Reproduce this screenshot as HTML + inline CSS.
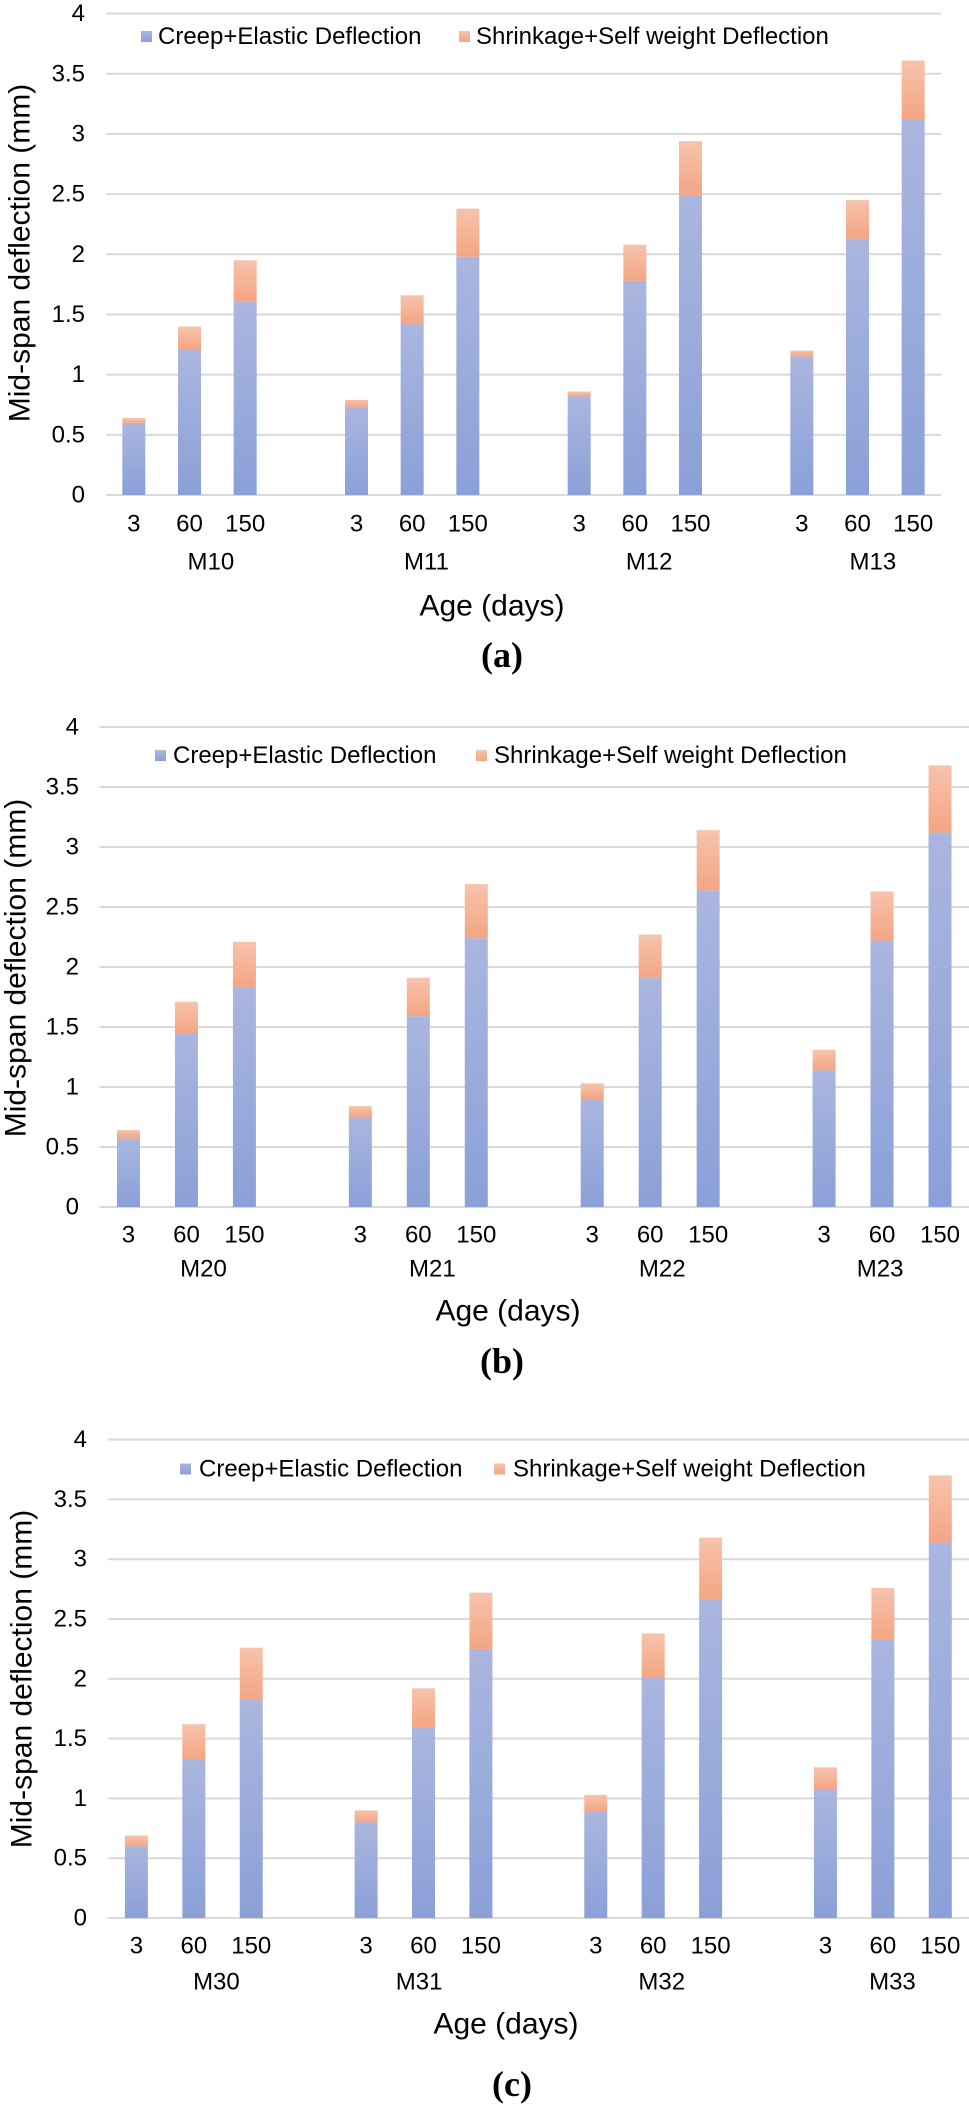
<!DOCTYPE html>
<html>
<head>
<meta charset="utf-8">
<style>
html,body{margin:0;padding:0;background:#fff;}
svg{display:block;}
text{font-family:"Liberation Sans",Arial,sans-serif;fill:#000;}
.cap{font-family:"Liberation Serif","Times New Roman",serif;font-weight:bold;}
</style>
</head>
<body>
<svg id="fig" width="969" height="2107" viewBox="0 0 969 2107" xmlns="http://www.w3.org/2000/svg">
<defs>
<linearGradient id="gBlue" x1="0" y1="0" x2="0" y2="1">
<stop offset="0" stop-color="#aab6df"/><stop offset="1" stop-color="#8ba0d8"/>
</linearGradient>
<linearGradient id="gOrange" x1="0" y1="0" x2="0" y2="1">
<stop offset="0" stop-color="#f7c3ad"/><stop offset="1" stop-color="#f4a583"/>
</linearGradient>
</defs>
</svg>
<script>
const ages = ["3","60","150"];
const groupsA = ["M10","M11","M12","M13"];
const groupsB = ["M20","M21","M22","M23"];
const groupsC = ["M30","M31","M32","M33"];
const creepA = [0.60,1.21,1.61, 0.73,1.42,1.98, 0.82,1.78,2.49, 1.15,2.13,3.12];
const shrinkA = [0.04,0.19,0.34, 0.06,0.24,0.40, 0.04,0.30,0.45, 0.05,0.32,0.49];
const creepB = [0.57,1.45,1.83, 0.75,1.59,2.24, 0.90,1.91,2.64, 1.14,2.22,3.12];
const shrinkB = [0.07,0.26,0.38, 0.09,0.32,0.45, 0.13,0.36,0.50, 0.17,0.41,0.56];
const creepC = [0.60,1.33,1.83, 0.80,1.59,2.25, 0.89,2.01,2.66, 1.07,2.33,3.14];
const shrinkC = [0.09,0.29,0.43, 0.10,0.33,0.47, 0.14,0.37,0.52, 0.19,0.43,0.56];
const yTicks = [0,0.5,1,1.5,2,2.5,3,3.5,4];
const yTickLabels = ["0","0.5","1","1.5","2","2.5","3","3.5","4"];
const legendLabels = ["Creep+Elastic Deflection","Shrinkage+Self weight Deflection"];

const NS = "http://www.w3.org/2000/svg";
const svg = document.getElementById("fig");
function mk(tag, attrs, parent, txt){
  const e = document.createElementNS(NS, tag);
  for (const k in attrs) e.setAttribute(k, attrs[k]);
  if (txt !== undefined) e.textContent = txt;
  parent.appendChild(e);
  return e;
}

const layouts = [
  {id:"a", groups:groupsA, creep:creepA, shrink:shrinkA, y4:13.6, y0:495, L:106, R:941, tickR:85,
   tickY:524, grpY:562, grpOff:[77,70,70,71], ageY:606, ageX:492, capY:655, capX:502, ytX:20, ytY:253,
   legY:36.5, sq1:141, t1:158, sq2:459, t2:476},
  {id:"b", groups:groupsB, creep:creepB, shrink:shrinkB, y4:727, y0:1207, L:99.5, R:969, tickR:79,
   tickY:1235, grpY:1269, grpOff:[75,72,70,56], ageY:1311, ageX:508, capY:1361, capX:502, ytX:16, ytY:968,
   legY:755.6, sq1:155, t1:173, sq2:476, t2:494},
  {id:"c", groups:groupsC, creep:creepC, shrink:shrinkC, y4:1439.6, y0:1918, L:107.7, R:969, tickR:87,
   tickY:1946, grpY:1982, grpOff:[80,53,66,67], ageY:2024, ageX:506, capY:2084, capX:512, ytX:22, ytY:1679,
   legY:1469, sq1:180, t1:199, sq2:494, t2:513}
];

layouts.forEach(function(c){
  const g = mk("g", {}, svg);
  
  
  const yS = v => c.y0 - (c.y0 - c.y4) * v / 4;
  const slot = (c.R - c.L) / 15;
  const xS = i => c.L + slot * (Math.floor(i / 3) * 4 + (i % 3) + 0.5);
  const bw = 23;

  yTicks.forEach(function(t, i){
    const ln = mk("line", {x1:c.L, x2:c.R, y1:yS(t), y2:yS(t), stroke:"#d9d9d9", "stroke-width":2}, g);
    
    
    const tx = mk("text", {x:c.tickR, y:yS(t), "text-anchor":"end", "dominant-baseline":"central", "font-size":24}, g, yTickLabels[i]);
    
    
  });

  c.creep.forEach(function(v, i){
    const x = xS(i) - bw / 2;
    const b1 = mk("rect", {x:x, y:yS(v), width:bw, height:yS(0) - yS(v), fill:"url(#gBlue)"}, g);
    
    
    const s = c.shrink[i];
    const b2 = mk("rect", {x:x, y:yS(v + s), width:bw, height:yS(v) - yS(v + s), fill:"url(#gOrange)"}, g);
    
    
    const tl = mk("text", {x:xS(i), y:c.tickY, "text-anchor":"middle", "dominant-baseline":"central", "font-size":24}, g, ages[i%3]);
    
    
  });

  c.groups.forEach(function(name, k){
    const gl = mk("text", {x:xS(k*3) + c.grpOff[k], y:c.grpY, "text-anchor":"middle", "dominant-baseline":"central", "font-size":24}, g, name);
    
    
  });

  const at = mk("text", {x:c.ageX, y:c.ageY, "text-anchor":"middle", "dominant-baseline":"central", "font-size":30}, g, "Age (days)");
  
  

  const yt = mk("text", {x:0, y:0, "text-anchor":"middle", "dominant-baseline":"central", "font-size":30,
    transform:"translate(" + c.ytX + "," + c.ytY + ") rotate(-90)"}, g, "Mid-span deflection (mm)");
  
  

  const cap = mk("text", {x:c.capX, y:c.capY, "text-anchor":"middle", "dominant-baseline":"central", "font-size":36, "class":"cap"}, g, "(" + c.id + ")");
  
  

  const lg = mk("g", {}, g);
  
  
  const s1 = mk("rect", {x:c.sq1, y:c.legY - 5.5, width:11, height:11, fill:"url(#gBlue)"}, lg);
  
  
  const l1 = mk("text", {x:c.t1, y:c.legY, "dominant-baseline":"central", "font-size":24}, lg, legendLabels[0]);
  
  
  const s2 = mk("rect", {x:c.sq2, y:c.legY - 5.5, width:11, height:11, fill:"url(#gOrange)"}, lg);
  
  
  const l2 = mk("text", {x:c.t2, y:c.legY, "dominant-baseline":"central", "font-size":24}, lg, legendLabels[1]);
  
  
});
</script>
</body>
</html>
